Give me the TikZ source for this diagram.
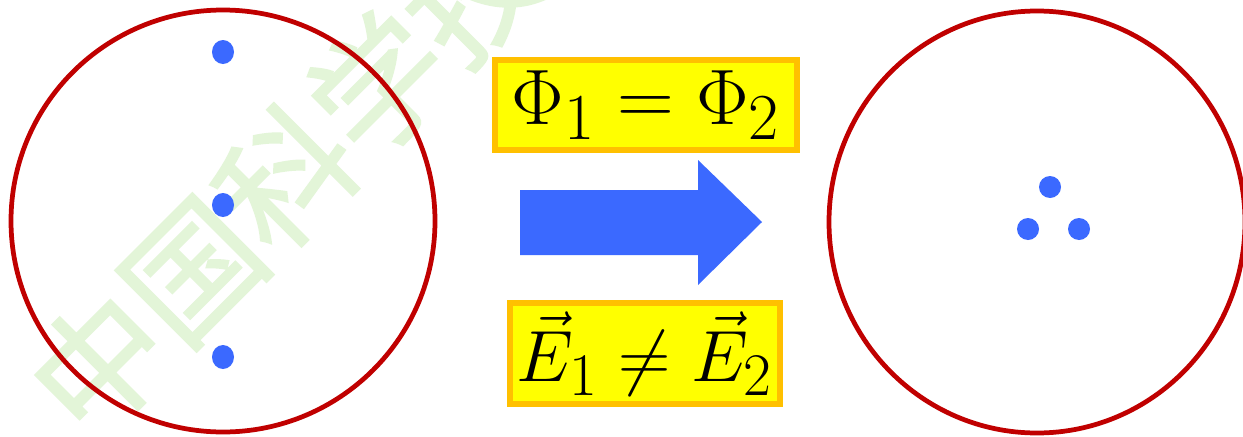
\documentclass[tikz,border=0pt]{standalone}
\usepackage{amsmath}
\usepackage{graphicx}
\usepackage{fontspec}
\newfontfamily\cjk{Noto Sans CJK SC}[FakeBold=1.5]
\definecolor{ringred}{HTML}{C00000}
\definecolor{dotblue}{HTML}{3B69FF}
\definecolor{boxorange}{HTML}{FFC000}
\definecolor{boxyellow}{HTML}{FFFF00}
\definecolor{wmgreen}{HTML}{E3F5D8}
\newcommand{\bigeq}[2]{\scalebox{#1}{\Huge $#2$}}
\tikzset{
  ring/.style={draw=ringred, line width=2.7pt},
  charge/.style={fill=dotblue},
  eqbox/.style={draw=boxorange, fill=boxyellow, line width=3.4pt, inner sep=0pt},
  wmark/.style={text=wmgreen, font=\cjk\fontsize{75}{80}\selectfont, rotate=45, inner sep=0pt}
}
\begin{document}
\begin{tikzpicture}[x=0.02cm, y=-0.02cm]
\useasboundingbox (0,0) rectangle (1243,436);
\fill[white] (0,0) rectangle (1243,436);
% watermark
\begin{scope}
\clip (0,0) rectangle (1243,436);
\node[wmark, anchor=west] (wm) at (52,410) {中国科学技术};
\end{scope}
% left ring and charges
\draw[ring] (223,221) ellipse [x radius=212, y radius=211];
\fill[charge] (223,52) ellipse [x radius=11, y radius=12];
\fill[charge] (223,205) ellipse [x radius=11, y radius=12];
\fill[charge] (223,357) ellipse [x radius=11, y radius=12];
% right ring and charges
\draw[ring] (1037,222) ellipse [x radius=208, y radius=211];
\fill[charge] (1050,187) ellipse [x radius=11, y radius=11];
\fill[charge] (1028,229) ellipse [x radius=11, y radius=11];
\fill[charge] (1079,229) ellipse [x radius=11, y radius=11];
% big arrow
\fill[dotblue] (520,190) -- (698,190) -- (698,160) -- (762,222) -- (698,285) -- (698,255) -- (520,255) -- cycle;
% boxes
\node[eqbox, minimum width=6.04cm, minimum height=1.8cm] (flux) at (646,105) {\bigeq{1.8}{\Phi_1=\Phi_2}};
\node[eqbox, minimum width=5.4cm, minimum height=2.02cm] (field) at (645,353.5) {\bigeq{1.66}{\vec E_1\neq\vec E_2}};
\end{tikzpicture}
\end{document}
